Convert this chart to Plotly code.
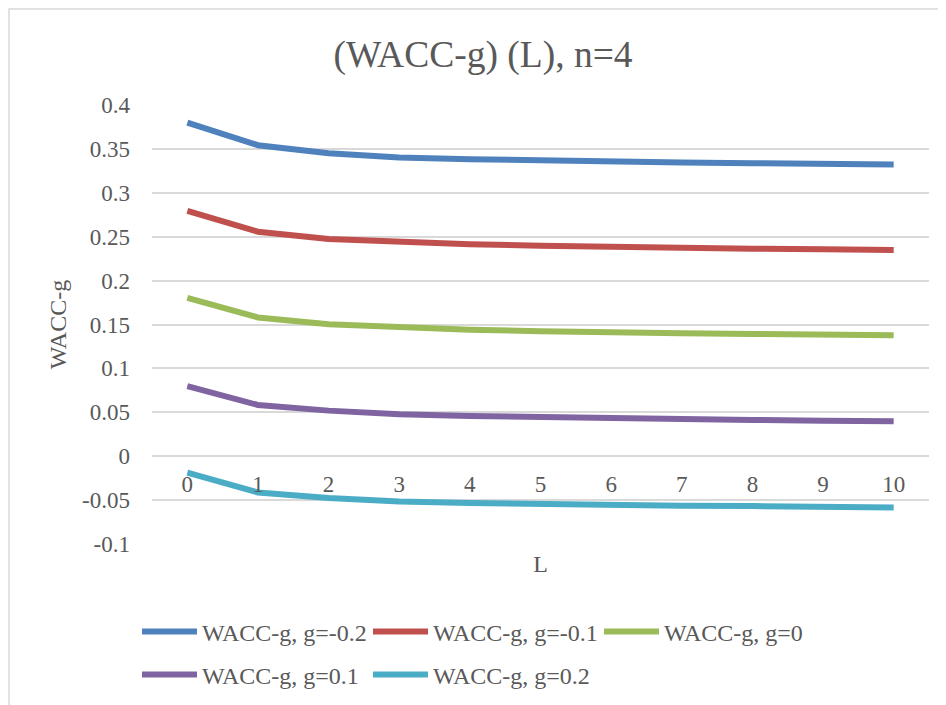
import plotly.graph_objects as go

# ---- data ----
L_values = [0, 1, 2, 3, 4, 5, 6, 7, 8, 9, 10]
wacc_g_m02 = [0.3800, 0.3542, 0.3451, 0.3402, 0.3383, 0.3367, 0.3356, 0.3345, 0.3337, 0.3330, 0.3322]
wacc_g_m01 = [0.2795, 0.2557, 0.2473, 0.2436, 0.2413, 0.2398, 0.2383, 0.2371, 0.2364, 0.2356, 0.2348]
wacc_g_0 = [0.1802, 0.1580, 0.1504, 0.1470, 0.1440, 0.1424, 0.1408, 0.1400, 0.1393, 0.1385, 0.1378]
wacc_g_p01 = [0.0799, 0.0583, 0.0519, 0.0477, 0.0458, 0.0443, 0.0432, 0.0420, 0.0413, 0.0405, 0.0398]
wacc_g_p02 = [-0.0186, -0.0413, -0.0477, -0.0515, -0.0534, -0.0549, -0.0560, -0.0564, -0.0568, -0.0576, -0.0583]

series_names = ["WACC-g, g=-0.2", "WACC-g, g=-0.1", "WACC-g, g=0", "WACC-g, g=0.1", "WACC-g, g=0.2"]
series_values = [wacc_g_m02, wacc_g_m01, wacc_g_0, wacc_g_p01, wacc_g_p02]
series_colors = ["#4F81BD", "#C0504D", "#9BBB59", "#8064A2", "#4BACC6"]
series_legend = ["legend", "legend", "legend", "legend2", "legend2"]

y_min, y_max, y_step = -0.1, 0.4, 0.05
title_text = "(WACC-g) (L), n=4"

FONT = "Liberation Serif"
TXT = "#595959"
GRID = "#D9D9D9"

OFF = 8  # page body margin offset
W, H = 946, 705
ml, mr, mt, mb = 152 - OFF, 17 + OFF, 105 - OFF, 161 + OFF
pw, ph = W - ml - mr, H - mt - mb

fig = go.Figure()
for name, vals, col, lg in zip(series_names, series_values, series_colors, series_legend):
    fig.add_trace(go.Scatter(
        x=L_values, y=vals, mode="lines", name=name,
        line=dict(color=col, width=6), legend=lg,
    ))

zero_pos = (0 - y_min) / (y_max - y_min)

tickvals = [round(y_min + i * y_step, 2) for i in range(int(round((y_max - y_min) / y_step)) + 1)]
ticktext = [("%g" % v) for v in tickvals]

def leg(ypage):
    return dict(orientation="h", x=(137 - OFF - ml) / pw, xanchor="left",
                y=-(ypage - OFF - (H - mb)) / ph, yanchor="middle",
                entrywidth=161, entrywidthmode="pixels", itemwidth=55,
                font=dict(family=FONT, size=24, color=TXT), bgcolor="rgba(0,0,0,0)")

fig.update_layout(
    width=W, height=H,
    margin=dict(l=ml, r=mr, t=mt, b=mb, autoexpand=False),
    paper_bgcolor="white", plot_bgcolor="white",
    font=dict(family=FONT, color=TXT, size=23),
    title=dict(text=title_text, x=(483 - OFF) / W, xref="container", xanchor="center",
               y=1 - 46 / H, yref="container", yanchor="middle",
               font=dict(family=FONT, size=37.5, color=TXT)),
    xaxis=dict(
        range=[-0.5, 10.5], tickmode="array", tickvals=L_values,
        ticktext=[str(v) for v in L_values],
        anchor="free", position=zero_pos, showgrid=False, zeroline=False,
        showline=False, ticks="", ticklabelstandoff=12,
        tickfont=dict(family=FONT, size=23, color=TXT),
        title=dict(text="L", standoff=58, font=dict(family=FONT, size=24, color=TXT)),
    ),
    yaxis=dict(
        range=[y_min, y_max], tickmode="array", tickvals=tickvals, ticktext=ticktext,
        showgrid=True, gridcolor=GRID, gridwidth=1.5, zeroline=False,
        showline=False, ticks="", ticklabelstandoff=21,
        tickfont=dict(family=FONT, size=23, color=TXT),
        title=dict(text="WACC-g", standoff=8, font=dict(family=FONT, size=24, color=TXT)),
    ),
    legend=leg(632),
    legend2=leg(675),
    showlegend=True,
)

# chart-area border (Excel style), partially cropped at right/bottom
fig.add_shape(type="rect", xref="paper", yref="paper",
              x0=(9 - OFF - ml) / pw, x1=(W + 10 - ml) / pw,
              y0=-(H + 10 - (H - mb)) / ph, y1=((H - mb) - (9 - OFF)) / ph,
              line=dict(color=GRID, width=1.5), fillcolor="rgba(0,0,0,0)", layer="below")

fig.write_html("out.html")
